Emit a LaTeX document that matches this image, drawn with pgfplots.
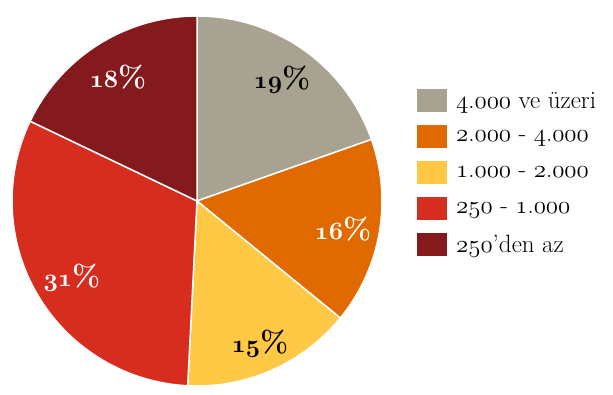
\documentclass[border=0pt]{standalone}
\usepackage{pgfplots}
\pgfplotsset{compat=1.18}
\definecolor{cgray}{HTML}{A8A290}
\definecolor{corange}{HTML}{E06A00}
\definecolor{cyellow}{HTML}{FFC845}
\definecolor{cred}{HTML}{D62D1E}
\definecolor{cdark}{HTML}{841A1E}
% old-style digits (Computer Modern math italic figures)
\newcommand\osf[1]{{\fontencoding{OML}\fontfamily{cmm}\fontseries{m}\fontshape{it}\selectfont #1}}
\newcommand\osfb[1]{{\fontencoding{OML}\fontfamily{cmm}\fontseries{b}\fontshape{it}\selectfont #1}}
% slice: colour, cumulative start (%), value (%)
\newcommand\slice[3]{%
  \fill[#1, draw=white, line width=1.5pt, line join=round] (axis cs:0,0) -- +({90-3.6*(#2)}:185pt)
    arc[start angle={90-3.6*(#2)}, end angle={90-3.6*(#2+#3)}, radius=185pt] -- cycle;}
\begin{document}
\begin{tikzpicture}
\begin{axis}[
  x=1pt, y=1pt,
  xmin=-197, xmax=416, ymin=-193, ymax=201,
  hide axis, clip=false,
  legend style={at={(axis cs:220,112)}, anchor=north west, draw=none, fill=none,
    inner sep=0pt, row sep=13pt, font=\fontsize{25}{27}\selectfont,
    /tikz/every odd column/.append style={column sep=7pt}},
  legend cell align=left,
  legend image code/.code={\fill[#1, draw=none] (0pt,-11.5pt) rectangle (30pt,11.5pt);},
]
\path (rel axis cs:0,0) rectangle (rel axis cs:1,1);
% values (%): 19.6, 16.3, 14.9, 31.3, 17.9
\slice{cgray}{0}{19.6}
\slice{corange}{19.6}{16.3}
\slice{cyellow}{35.9}{14.9}
\slice{cred}{50.8}{31.3}
\slice{cdark}{82.1}{17.9}
\begin{scope}[font=\fontsize{30}{32}\selectfont\bfseries]
\node[black] at (axis cs:85,121) {\osfb{19}\%};
\node[white] at (axis cs:146,-28) {\osfb{16}\%};
\node[black] at (axis cs:63,-143) {\osfb{15}\%};
\node[white] at (axis cs:-125,-77) {\osfb{31}\%};
\node[white] at (axis cs:-79,124) {\osfb{18}\%};
\end{scope}
\addlegendimage{fill=cgray}\addlegendentry{\osf{4}.\osf{000} ve üzeri}
\addlegendimage{fill=corange}\addlegendentry{\osf{2}.\osf{000} - \osf{4}.\osf{000}}
\addlegendimage{fill=cyellow}\addlegendentry{\osf{1}.\osf{000} - \osf{2}.\osf{000}}
\addlegendimage{fill=cred}\addlegendentry{\osf{250} - \osf{1}.\osf{000}}
\addlegendimage{fill=cdark}\addlegendentry{\osf{250}’den az}
\end{axis}
\end{tikzpicture}
\end{document}
